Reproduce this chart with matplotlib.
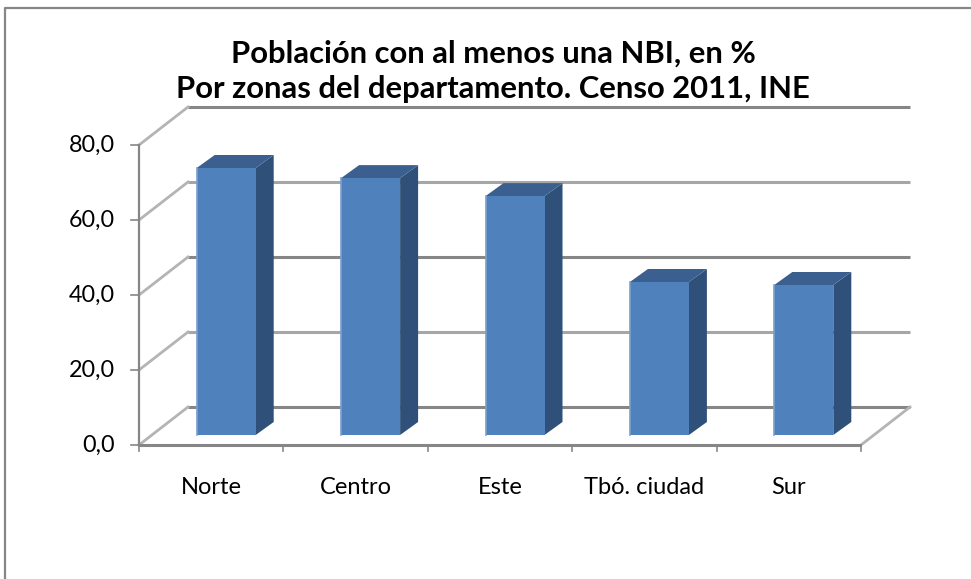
import matplotlib
matplotlib.use("Agg")
import matplotlib.pyplot as plt
from matplotlib.patches import Polygon
from matplotlib.lines import Line2D

plt.rcParams['font.family'] = ['Lato', 'DejaVu Sans']

categories = ["Norte", "Centro", "Este", "Tbó. ciudad", "Sur"]
values = [71.2, 68.5, 63.7, 40.8, 40.0]
y_ticks = [0, 20, 40, 60, 80]
y_labels = ["0,0", "20,0", "40,0", "60,0", "80,0"]
title_lines = "Población con al menos una NBI, en %\nPor zonas del departamento. Censo 2011, INE"

W, H = 971, 579
fig = plt.figure(figsize=(W/100, H/100), dpi=100, facecolor="white")
ax = fig.add_axes([139/W, 1-445/H, 722/W, 300/H])
ax.set_xlim(0, 5)
ax.set_ylim(0, 80)
ax.axis("off")

px = 5/722
py = 80/300
DX, DY = 49*px, 38*py          # wall depth
bdx0, bdy0 = 15*px, 10*py      # bar front offset
bdx, bdy = 18*px, 13*py        # bar depth
bw = 59*px

dark = "#868686"
light = "#a6a6a6"
diag = "#b4b4b4"

# walls
for i, t in enumerate(y_ticks):
    ax.plot([DX, 5+DX], [t+DY, t+DY], color=dark if i % 2 == 0 else light,
            lw=2.2, clip_on=False, zorder=1, solid_capstyle="butt")
    ax.plot([0, DX], [t, t+DY], color=diag, lw=2.0, clip_on=False, zorder=1)
    ax.plot([-8*px, 0], [t, t], color=dark, lw=1.2, clip_on=False, zorder=2)
    ax.text(-24*px, t, y_labels[i], ha="right", va="center", fontsize=16.8, color="black")
ax.plot([5, 5+DX], [0, DY], color=diag, lw=2.0, clip_on=False, zorder=1)
ax.plot([0, 0], [0, 80], color=dark, lw=1.6, clip_on=False, zorder=2)
ax.plot([0, 5], [0, 0], color=dark, lw=2.2, clip_on=False, zorder=2, solid_capstyle="butt")
for i in range(6):
    ax.plot([i, i], [0, -6*py], color=dark, lw=1.2, clip_on=False, zorder=2)

# bars
centers = [i+0.5+bdx0 for i in range(5)]
ax.bar(centers, values, width=bw, bottom=bdy0, color="#4f81bd", edgecolor="none", zorder=4, clip_on=False)
for c, v in zip(centers, values):
    l, r = c-bw/2, c+bw/2
    top = bdy0+v
    ax.add_patch(Polygon([(r, bdy0), (r+bdx, bdy0+bdy), (r+bdx, top+bdy), (r, top)],
                         closed=True, fc="#2f5079", ec="none", zorder=3, clip_on=False))
    ax.add_patch(Polygon([(l, top), (l+bdx, top+bdy), (r+bdx, top+bdy), (r, top)],
                         closed=True, fc="#3b6090", ec="none", zorder=3, clip_on=False))
    ax.plot([l, l], [bdy0, top], color="#7d9fcb", lw=1.2, zorder=5, clip_on=False)
for i, name in enumerate(categories):
    ax.text(i+0.5, -42.5*py, name, ha="center", va="center", fontsize=17, color="black")

fig.text(493/W, 1-71/H, title_lines, ha="center", va="center", fontsize=22.3,
         fontweight="bold", color="black", linespacing=1.33)

# chart frame
fig.add_artist(Line2D([4.5/W, 4.5/W, 1], [0, 1-7.5/H, 1-7.5/H], color=dark, lw=1.6))

fig.savefig("out.png", dpi=100)
